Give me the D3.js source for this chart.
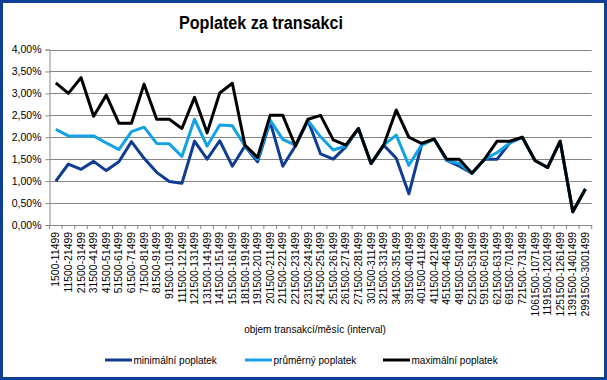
<!DOCTYPE html>
<html><head><meta charset="utf-8">
<script src="https://cdn.jsdelivr.net/npm/d3@7"></script>
<style>body{margin:0;background:#fff}svg{display:block;font-family:"Liberation Sans",Arial,sans-serif}</style>
</head><body><svg id="c" width="607" height="380"></svg>
<script>
const categories = ["1500-11499","11500-21499","21500-31499","31500-41499","41500-51499","51500-61499","61500-71499","71500-81499","81500-91499","91500-101499","111500-121499","121500-131499","131500-141499","141500-151499","151500-161499","181500-191499","191500-201499","201500-211499","211500-221499","221500-231499","231500-241499","241500-251499","251500-261499","261500-271499","271500-281499","301500-311499","321500-331499","341500-351499","391500-401499","401500-411499","411500-421499","451500-461499","491500-501499","521500-531499","591500-601499","621500-631499","691500-701499","721500-731499","1061500-1071499","1191500-1201499","1251500-1261499","1391500-1401499","2991500-3001499"];
const minFee = [1.00,1.39,1.27,1.45,1.24,1.44,1.90,1.52,1.20,0.99,0.95,1.91,1.50,1.92,1.34,1.80,1.44,2.35,1.34,1.80,2.38,1.62,1.50,1.78,2.20,1.40,1.82,1.52,0.71,1.82,1.96,1.47,1.34,1.18,1.50,1.50,1.87,2.00,1.47,1.31,1.91,0.30,0.82];
const avgFee = [2.18,2.03,2.03,2.03,1.87,1.72,2.13,2.23,1.86,1.85,1.56,2.41,1.80,2.28,2.26,1.80,1.50,2.39,1.95,1.82,2.38,2.01,1.71,1.80,2.20,1.40,1.82,2.05,1.36,1.82,1.96,1.47,1.40,1.18,1.50,1.65,1.87,2.00,1.47,1.31,1.91,0.30,0.82];
const maxFee = [3.24,3.00,3.36,2.48,2.96,2.32,2.32,3.21,2.41,2.41,2.20,2.91,2.10,3.01,3.23,1.82,1.54,2.50,2.50,1.80,2.41,2.50,1.94,1.82,2.20,1.40,1.82,2.62,2.00,1.86,1.96,1.50,1.50,1.18,1.50,1.91,1.91,2.00,1.47,1.31,1.91,0.30,0.82];
const yTicks = [0,0.5,1,1.5,2,2.5,3,3.5,4];
const seriesNames = ["minimální poplatek","průměrný poplatek","maximální poplatek"];
const seriesColors = ["#0e3d92","#12a2e6","#000000"];
const title = "Poplatek za transakci";
const xTitle = "objem transakcí/měsíc (interval)";

const svg = d3.select("#c");
const L = 49.5, R = 591.7, T = 49.5, B = 225;
const x = d3.scaleBand().domain(categories).range([L, R]);
const y = d3.scaleLinear().domain([0,4]).range([B, T]);
const fmt = v => v.toFixed(2).replace(".", ",") + "%";

// border
svg.append("rect").attr("x",1.5).attr("y",1.5).attr("width",604).attr("height",377)
  .attr("fill","#fff").attr("stroke","#0f3f94").attr("stroke-width",3);

// title
svg.append("text").attr("x",261).attr("y",29).attr("text-anchor","middle")
  .attr("font-size",18).attr("font-weight","bold").attr("textLength",164).attr("lengthAdjust","spacingAndGlyphs")
  .text(title);

// gridlines
svg.append("g").selectAll("line").data(yTicks.filter(d=>d>0)).join("line")
  .attr("x1",L).attr("x2",R).attr("y1",d=>Math.round(y(d))+0.5).attr("y2",d=>Math.round(y(d))+0.5)
  .attr("stroke","#868686").attr("stroke-width",1);

// y axis
const ya = svg.append("g").attr("transform",`translate(${L},0)`)
  .call(d3.axisLeft(y).tickValues(yTicks).tickFormat(fmt).tickSize(4).tickPadding(4));
ya.select(".domain").attr("stroke","#868686");
ya.selectAll(".tick line").attr("stroke","#868686");
ya.selectAll("text").attr("font-size",10.5).attr("fill","#000").attr("font-family","Liberation Sans, Arial, sans-serif");

// x axis
const xa = svg.append("g").attr("transform",`translate(0,${B})`)
  .call(d3.axisBottom(x).tickSize(0).tickPadding(0));
xa.select(".domain").attr("stroke","#868686");
xa.selectAll(".tick text").attr("font-size",10.4).attr("fill","#000").attr("font-family","Liberation Sans, Arial, sans-serif")
  .attr("transform","rotate(-90)").attr("text-anchor","end").attr("x",-7).attr("y",0).attr("dy","0.35em");
// boundary ticks
svg.append("g").selectAll("line").data(d3.range(categories.length+1)).join("line")
  .attr("x1",i=>L + i*x.step()).attr("x2",i=>L + i*x.step()).attr("y1",B).attr("y2",B+4)
  .attr("stroke","#868686");

// x title
svg.append("text").attr("x",315).attr("y",333).attr("text-anchor","middle")
  .attr("font-size",10).text(xTitle);

// lines
const data = [minFee, avgFee, maxFee];
const line = d3.line().x((d,i)=>x(categories[i]) + x.bandwidth()/2).y(d=>y(d));
data.forEach((s,k)=>{
  svg.append("path").datum(s).attr("d",line).attr("fill","none")
    .attr("stroke",seriesColors[k]).attr("stroke-width",3).attr("stroke-linejoin","round");
});

// legend
const legX = [105, 245, 383];
seriesNames.forEach((n,k)=>{
  const g = svg.append("g").attr("transform",`translate(${legX[k]},360)`);
  g.append("line").attr("x1",0).attr("x2",27).attr("stroke",seriesColors[k]).attr("stroke-width",3);
  g.append("text").attr("x",28.5).attr("y",3.5).attr("font-size",10).text(n);
});
</script></body></html>
